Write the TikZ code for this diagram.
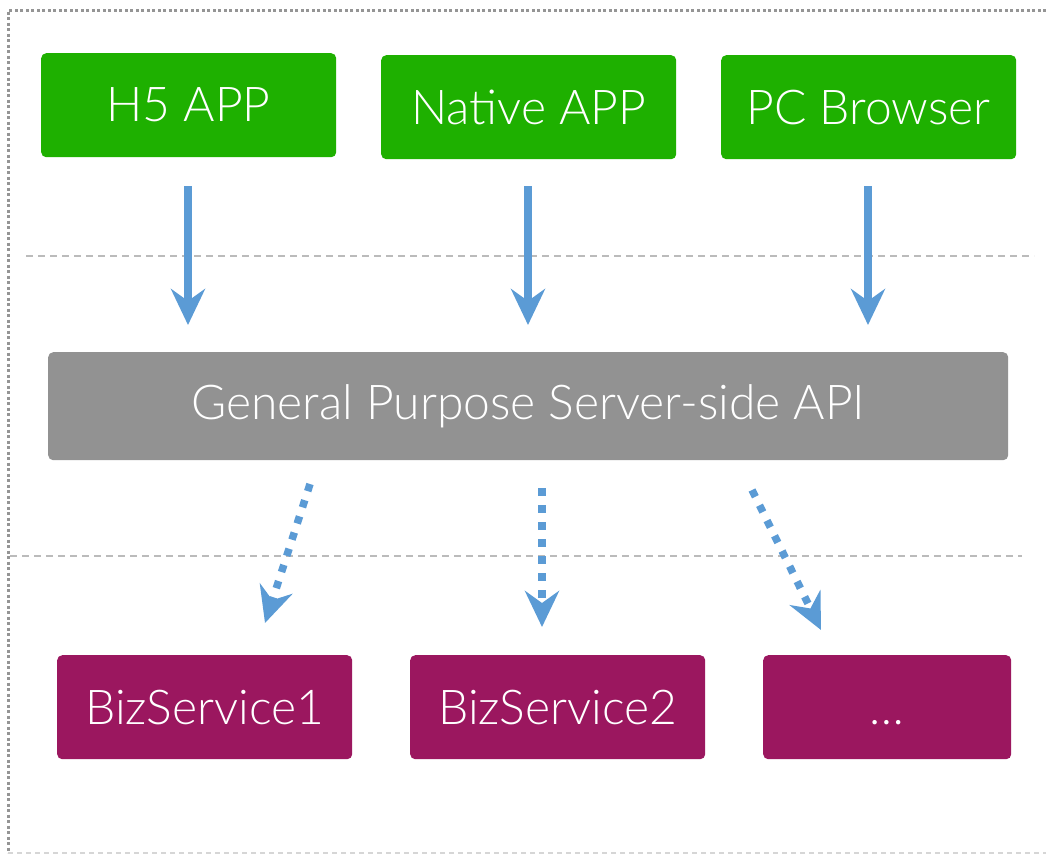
\documentclass[tikz,border=0pt]{standalone}
\usepackage{fontspec}
\setmainfont{Lato Light}
\usetikzlibrary{arrows.meta}
\definecolor{appgreen}{HTML}{1EB000}
\definecolor{apigray}{HTML}{929292}
\definecolor{bizpurple}{HTML}{9B175F}
\definecolor{flowblue}{HTML}{5B9BD5}
\definecolor{framegray}{HTML}{959595}
\definecolor{sepgray}{HTML}{BBBBBB}
\tikzset{
  box/.style={rounded corners=5pt, text=white, font=\fontsize{48}{54}\selectfont,
    inner sep=0pt, anchor=north west},
  appbox/.style={box, fill=appgreen, minimum width=295pt, minimum height=104pt},
  apibox/.style={box, fill=apigray, minimum width=960pt, minimum height=108pt},
  bizbox/.style={box, fill=bizpurple, minimum height=104pt},
  calltip/.style={-{Stealth[length=36pt, width=34pt, inset=12pt]}},
  callsolid/.style={calltip, draw=flowblue, line width=8pt},
  calldotted/.style={calltip, draw=flowblue, line width=7.5pt, dash pattern=on 7.5pt off 9.5pt},
  separator/.style={draw=sepgray, line width=2pt, dash pattern=on 7pt off 5pt},
}
\begin{document}
\begin{tikzpicture}[x=1pt, y=-1pt]
  \useasboundingbox (0,0) rectangle (1046,855);
  % outer frame
  \draw[framegray, line width=3pt, dash pattern=on 3pt off 2.5pt] (1046,10) -- (8,10) -- (8,853);
  \draw[sepgray!60, line width=1.5pt, dash pattern=on 5pt off 4pt] (8,853) -- (1046,853);
  % layer separators
  \draw[separator] (26,256) -- (1034,256);
  \draw[separator] (10,556) -- (1022,556);
  % clients
  \node[appbox] (h5) at (41,53) {H5 APP};
  \node[appbox] (native) at (381,55) {Native APP};
  \node[appbox] (pc) at (721,55) {PC Browser};
  % API layer
  \node[apibox] (api) at (48,352) {General Purpose Server-side API};
  % business services
  \node[bizbox, minimum width=295pt] (biz1) at (57,655) {BizService1};
  \node[bizbox, minimum width=295pt] (biz2) at (410,655) {BizService2};
  \node[bizbox, minimum width=248pt] (biz3) at (763,655) {\vphantom{BizService1}\dots};
  % arrow end points
  \coordinate (h5s) at (188,186);   \coordinate (h5e) at (188,325);
  \coordinate (nas) at (528,186);   \coordinate (nae) at (528,325);
  \coordinate (pcs) at (868,186);   \coordinate (pce) at (868,325);
  \coordinate (b1s) at (310,484);   \coordinate (b1e) at (265,623);
  \coordinate (b2s) at (542,488);   \coordinate (b2e) at (542,627);
  \coordinate (b3s) at (752,490);   \coordinate (b3e) at (821,630);
  % client calls
  \draw[callsolid] (h5s) -- (h5e);
  \draw[callsolid] (nas) -- (nae);
  \draw[callsolid] (pcs) -- (pce);
  % service calls
  \draw[calldotted] (b1s) -- (b1e);
  \draw[calldotted] (b2s) -- (b2e);
  \draw[calldotted] (b3s) -- (b3e);
\end{tikzpicture}
\end{document}
